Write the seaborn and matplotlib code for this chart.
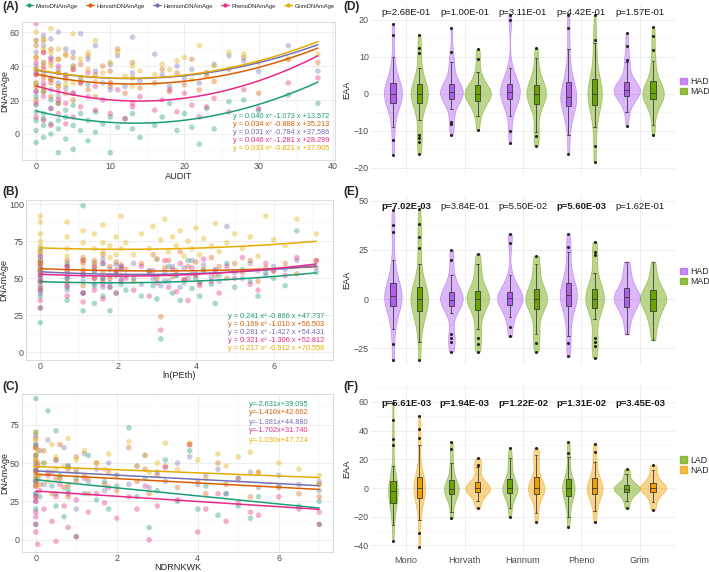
import numpy as np
import pandas as pd
import matplotlib
matplotlib.use("Agg")
import matplotlib.pyplot as plt
import seaborn as sns
from matplotlib.patches import Patch
from matplotlib.lines import Line2D
from matplotlib.ticker import MultipleLocator

sns.set_theme(style="white")
plt.rcParams['font.family'] = ['Liberation Sans', 'DejaVu Sans']

# ---- data ---------------------------------------------------------------
clock_names = ["MonoDNAmAge", "HorvathDNAmAge", "HannumDNAmAge", "PhenoDNAmAge", "GrimDNAmAge"]
clock_colors = ["#1B9E77", "#D95F02", "#7570B3", "#E7298A", "#E6AB02"]
clocks = ["Mono", "Horvath", "Hannum", "Pheno", "Grim"]

# (A) AUDIT
A_audit = [0, 0, 0, 0, 0, 0, 1, 1, 1, 1, 1, 2, 2, 2, 2, 3, 3, 3, 3, 4, 4, 4, 5, 5, 5, 6, 6, 7, 7, 8, 8, 9,
           10, 10, 11, 12, 13, 13, 14, 16, 17, 18, 19, 20, 21, 22, 23, 24, 26, 28, 30, 34, 38]
A_mono = [2, 13, -5, 22, 8, 17, 5, -2, 12, 25, 9, 0, 15, 6, 20, -11, 8, 18, 3, 10, -3, 14, 5, -9, 17, 2, 12,
          8, -4, 13, 1, 6, -11, 10, 4, 9, 3, 12, -2, 5, 10, 18, 2, 12, 4, -6, 15, 3, 19, 20, 14, 23, 18]
A_horvath = [28, 45, 35, 20, 52, 38, 40, 25, 48, 33, 55, 30, 42, 22, 50, 36, 18, 44, 28, 32, 47, 24, 38, 20,
             45, 30, 41, 26, 46, 35, 22, 40, 28, 37, 50, 24, 33, 42, 27, 30, 38, 25, 36, 29, 44, 26, 34, 31,
             38, 45, 24, 44, 42]
A_hannum = [30, 48, 40, 25, 55, 36, 42, 28, 52, 35, 58, 33, 45, 26, 56, 38, 22, 60, 30, 35, 50, 27, 40, 24,
            48, 32, 59, 29, 44, 37, 52, 30, 26, 41, 46, 28, 36, 57, 31, 47, 35, 28, 40, 33, 38, 30, 36, 41,
            46, 43, 37, 52, 37]
A_pheno = [18, 35, 10, 42, 25, 65, 22, 8, 38, 30, 48, 15, 32, 5, 44, 25, 12, 40, 20, 18, 34, 6, 24, 10, 38,
           16, 30, 22, 36, 14, 28, 20, 12, 30, 26, 9, 18, 16, 22, 14, 20, 26, 13, 24, 17, 10, 16, 21, 13, 26,
           15, 30, 33]
A_grim = [30, 45, 38, 55, 28, 60, 35, 50, 42, 27, 56, 32, 48, 40, 62, 36, 28, 50, 44, 34, 46, 29, 40, 30, 59,
          33, 44, 38, 48, 31, 55, 36, 30, 42, 48, 34, 40, 28, 37, 35, 41, 38, 43, 45, 32, 52, 36, 40, 48, 47,
          42, 44, 47]
A_coef = [(0.040, -1.073, 13.572), (0.034, -0.888, 35.213), (0.031, -0.784, 37.586),
          (0.046, -1.281, 28.299), (0.033, -0.821, 37.905)]

# (B) ln(PEth)
B_lnpeth = [0, 0, 0, 0, 0, 0, 0, 0, 0.69, 0.69, 0.69, 0.69, 1.10, 1.10, 1.10, 1.10, 1.39, 1.39, 1.39,
            1.61, 1.61, 1.61, 1.79, 1.79, 1.95, 1.95, 2.08, 2.08, 2.2, 2.4, 2.6, 2.8, 2.9, 3.0, 3.1, 3.2,
            3.3, 3.4, 3.5, 3.6, 3.7, 3.8, 3.9, 4.0, 4.1, 4.2, 4.4, 4.5, 4.6, 4.8, 5.0, 5.2, 5.4, 5.6, 5.8,
            6.0, 6.3, 6.6, 7.1]
B_mono = [30, 42, 48, 55, 62, 38, 20, 70, 35, 50, 60, 44, 40, 52, 99, 28, 45, 33, 55, 50, 38, 60, 44, 28, 52,
          40, 46, 56, 42, 50, 38, 55, 45, 36, 9, 48, 58, 40, 52, 35, 47, 62, 43, 50, 38, 55, 46, 33, 52, 60,
          44, 56, 48, 38, 54, 50, 45, 82, 54]
B_horvath = [48, 56, 62, 52, 68, 44, 58, 60, 55, 62, 47, 58, 53, 60, 45, 64, 57, 50, 62, 54, 66, 48, 58, 50,
             55, 61, 52, 59, 56, 48, 60, 53, 66, 50, 24, 57, 62, 51, 55, 68, 49, 58, 53, 61, 47, 56, 64, 52,
             58, 50, 60, 54, 62, 48, 57, 55, 60, 53, 62]
B_hannum = [45, 54, 60, 50, 65, 40, 57, 52, 50, 58, 42, 55, 48, 62, 52, 40, 55, 46, 60, 50, 63, 44, 56, 47,
            53, 59, 49, 58, 52, 60, 46, 55, 50, 63, 45, 54, 48, 58, 52, 44, 57, 50, 62, 53, 47, 59, 51, 56,
            48, 85, 54, 50, 60, 55, 52, 58, 56, 62, 57]
B_pheno = [35, 48, 55, 60, 42, 65, 52, 30, 45, 58, 38, 52, 40, 55, 62, 34, 50, 42, 58, 46, 60, 36, 52, 44, 55,
           40, 48, 57, 50, 42, 58, 38, 55, 47, 15, 62, 44, 56, 41, 60, 49, 35, 57, 52, 45, 63, 48, 55, 40, 58,
           50, 64, 46, 42, 60, 55, 52, 64, 62]
B_grim = [60, 72, 80, 68, 88, 55, 92, 75, 65, 78, 88, 70, 62, 74, 82, 56, 70, 80, 60, 68, 86, 74, 72, 64, 78,
          66, 70, 92, 74, 66, 80, 70, 85, 63, 76, 90, 68, 78, 72, 82, 65, 75, 70, 84, 66, 77, 72, 87, 68, 74,
          80, 70, 78, 65, 92, 76, 72, 90, 80]
B_coef = [(0.241, -0.866, 47.737), (0.169, -1.010, 56.503), (0.281, -1.427, 54.431),
          (0.321, -1.306, 52.812), (0.217, -0.912, 70.558)]

# (C) NDRNKWK
C_ndrnkwk = [0, 0, 0, 0, 0, 0, 0, 0, 0, 0.05, 0.1, 0.2, 0.3, 0.4, 0.5, 0.5, 0.6, 0.7, 0.8, 0.8, 1.0, 1.0,
             1.2, 1.3, 1.5, 1.7, 1.8, 2.0, 2.3, 2.5, 2.7, 2.8, 3.0, 3.2, 3.5, 3.8, 4.0, 4.2, 4.5, 4.7, 5.0,
             5.3, 5.5, 6.0, 6.5, 7.0, 7.0]
C_mono = [92, 20, 55, 38, 70, 10, 45, 30, 62, 40, 28, 50, 84, 35, 71, 22, 42, 15, 48, 32, 2, 40, 30, 55, 26,
          38, 20, 35, 73, 28, 40, 8, 32, 52, 25, 58, 20, 35, 16, 30, 22, 14, 28, 35, 22, 10, 25]
C_horvath = [48, 35, 60, 42, 28, 66, 52, 38, 45, 50, 36, 58, 44, 30, 52, 40, 62, 34, 46, 28, 54, 38, 42, 30,
             50, 36, 44, 32, 60, 38, 46, 30, 42, 48, 34, 62, 38, 30, 50, 36, 40, 28, 44, 34, 30, 28, 36]
C_hannum = [50, 38, 62, 45, 30, 68, 55, 40, 25, 48, 58, 36, 65, 44, 30, 52, 40, 60, 35, 48, 20, 45, 56, 38,
            46, 32, 50, 42, 36, 48, 55, 34, 44, 38, 50, 54, 36, 42, 46, 30, 40, 44, 34, 42, 36, 32, 38]
C_pheno = [10, 25, 35, 5, 45, 18, 60, 28, 15, -3, 32, 20, 42, 12, -1, 28, 36, 22, 8, 30, 2, 26, 40, 18, 30,
           24, 34, 14, 28, 20, 35, 0, 22, 47, 26, 62, 5, 20, 30, 12, 24, 18, 16, 28, 20, 10, 18]
C_grim = [55, 40, 65, 48, 35, 70, 52, 44, 60, 58, 42, 50, 38, 62, 46, 54, 40, 48, 66, 36, 52, 44, 58, 40, 50,
          46, 56, 42, 64, 48, 55, 44, 50, 63, 46, 63, 52, 40, 56, 48, 54, 57, 44, 50, 46, 42, 36]
C_coef = [(-2.631, 39.095), (-1.410, 42.662), (-1.381, 44.880), (-1.702, 31.740), (-1.030, 47.724)]

# (D) EAA, HAD vs MAD
D_HAD = {
    "Mono": [-16.5, -12.4, -9, -6, -4, -3, -2.5, -2, -1.5, -1, -0.5, 0, 0, 0.5, 1, 1.5, 2, 2.5, 3, 3.5, 5, 7, 10, 16, 19],
    "Horvath": [-11, -8, -7.5, -4, -2.5, -1.6, -1.2, -0.8, -0.3, 0, 0.3, 0.5, 0.5, 0.8, 1.2, 1.6, 2, 2.5, 3.5, 5, 7.8, 8.7, 11.4, 17.7],
    "Hannum": [-13.2, -9.9, -6, -4, -2.5, -1.4, -1, -0.5, 0, 0.3, 0.5, 0.5, 0.8, 1.2, 1.8, 2.4, 2.9, 3.5, 5, 7, 20, 21.4],
    "Pheno": [-16.2, -11, -8, -6, -4.5, -3.9, -3, -2.5, -2, -1.5, -1, -1, -0.5, 0, 0.5, 1.5, 2.3, 3, 4, 6, 9, 12, 17.7, 21.4],
    "Grim": [-8.6, -5, -3.5, -2, -1.2, -0.9, -0.5, 0, 0.3, 0.6, 0.9, 1.1, 1.1, 1.3, 1.6, 2, 2.4, 2.9, 3.2, 4.5, 6.5, 8.7, 9.2, 12.8, 16.4],
}
D_MAD = {
    "Mono": [-16.2, -12.9, -12, -11, -7, -5, -2.5, -2.2, -2, -1.5, -1, -0.5, 0, 0, 0.5, 1, 1.5, 2, 2.7, 3.5, 5, 7, 11, 12.3, 16],
    "Horvath": [-9.7, -6, -4.5, -3.5, -2.2, -1.8, -1.2, -0.8, -0.3, 0, 0, 0.3, 0.8, 1.2, 1.8, 2.3, 3, 4.5, 6, 9.4, 12],
    "Hannum": [-14, -11.5, -10.2, -6, -4, -2.2, -1.8, -1.2, -0.6, 0, 0, 0.5, 1, 1.6, 2.2, 3, 4.5, 6, 9.6, 12.3],
    "Pheno": [-18.3, -14, -9, -6, -3.6, -3, -2, -1.2, -0.5, 0, 0, 0.6, 1.2, 2, 3.2, 4, 6, 9, 13.7, 14.6, 21.4],
    "Grim": [-11, -8.4, -5, -3, -2, -1.8, -1.5, -1, -0.6, -0.2, 0, 0, 0.3, 0.7, 1.2, 1.8, 2.3, 2.5, 3.5, 5, 7.8, 9, 11.9, 15.5, 18],
}
D_p = ["p=2.68E-01", "p=1.00E-01", "p=3.11E-01", "p=4.42E-01", "p=1.57E-01"]
D_bold = [False, False, False, False, False]

# (E) EAA, HAD vs MAD
E_HAD = {
    "Mono": [-31, -22.8, -15, -10, -6, -4.5, -3.6, -2, -1, 0, 0.5, 1, 1.5, 2, 3, 4, 5, 6.5, 8, 11, 15, 20, 34, 37.6, 45],
    "Horvath": [-26.7, -22, -20, -18, -7, -3.6, -3, -2, -1.2, -0.5, -0.5, 0, 0.8, 1.6, 2.5, 3.7, 5.5, 8, 12, 20, 25],
    "Hannum": [-19, -14, -9, -6, -3.9, -2.5, -1.5, -0.5, 0, 0.3, 0.3, 1, 2, 3, 3.4, 5, 8, 12, 28.6, 33],
    "Pheno": [-29, -22.5, -19, -12, -7, -3.6, -2, -1, 0, 1, 1.9, 2.5, 3.5, 5, 6.6, 8, 11, 15, 24, 26.5, 33],
    "Grim": [-18, -12, -8, -5.5, -4.5, -3, -1, 0.3, 0.8, 0.8, 1.5, 2.5, 4, 6, 8, 11, 15, 19],
}
E_MAD = {
    "Mono": [-31, -22, -15, -10, -8, -6.5, -5.9, -3.5, -1.5, -0.5, 0, 0, 0, 1, 2.5, 4, 5, 5.9, 5.9, 12, 18, 26, 31.6, 38, 45.5],
    "Horvath": [-26.7, -23, -20, -15, -12, -6, -3.9, -2.5, -1.5, -0.5, 0, 0, 0.5, 1.5, 2.2, 2.9, 4.5, 7, 11.3, 15, 18, 22.8],
    "Hannum": [-26.7, -22.5, -18, -15, -8, -4.2, -3, -2, -1, 0, 0, 0.5, 1.5, 3, 4.6, 6, 10, 15.6, 18, 21.8],
    "Pheno": [-30, -24, -22, -20, -10, -4.7, -3.5, -2.5, -1.5, -0.5, 0, 0.5, 1.5, 3, 4, 5.2, 8, 13, 22.3, 24, 29],
    "Grim": [-21, -15, -11, -8, -6.5, -4.5, -2, -1, 0, 0, 0.5, 1.5, 2.5, 5, 6.5, 9, 13, 19],
}
E_p = ["p=7.02E-03", "p=3.84E-01", "p=5.50E-02", "p=5.60E-03", "p=1.62E-01"]
E_bold = [True, False, False, True, False]

# (F) EAA, LAD vs NAD
F_LAD = {
    "Mono": [-36.7, -26, -20, -15, -12, -10.7, -10.5, -7, -5, -3.5, -2.1, -2.1, -2.1, -1, 0, 1.5, 3, 4, 5.1, 9, 15, 30, 34, 47.4, 59.5],
    "Horvath": [-21.2, -16.5, -9, -6, -4.9, -3.5, -2, -1, -0.9, -0.5, 0.5, 1.5, 2.8, 4, 7, 14.4, 17.2, 27, 32.3],
    "Hannum": [-20.5, -14, -9, -5.6, -4, -2.5, -1.5, -0.9, -0.5, 0.5, 1.5, 3, 4.4, 7, 12, 17.2, 21.2, 27.7],
    "Pheno": [-27, -20, -14, -9, -6.5, -5, -3, -1.5, -0.5, 0, 0.5, 1.5, 3, 5.1, 7, 12, 21.9, 24.2, 32.3],
    "Grim": [-14.2, -9, -6, -3.7, -2.5, -1.5, -0.9, -0.5, 0, 0.8, 1.6, 3, 5, 9.5, 13],
}
F_NAD = {
    "Mono": [-41, -31.6, -22, -15, -10, -8, -7.2, -5, -3, -1.5, -0.5, 0, 0, 0.5, 2, 3.5, 5, 6.5, 7.9, 11, 18, 30, 35, 41, 50],
    "Horvath": [-14.2, -9, -6, -3.7, -2.5, -1.5, -0.5, 0, 0, 0.5, 1.5, 2.8, 4.5, 8, 14.9, 16, 20.7],
    "Hannum": [-23.5, -17.7, -10, -6, -4.9, -3, -1.5, -0.5, 0, 0, 1, 2.5, 3.7, 6, 10, 19.5, 21, 23, 27.7],
    "Pheno": [-23.5, -16, -11, -7, -4.9, -3, -1.5, -0.5, 0, 0, 1, 2.5, 5.1, 8, 12, 18, 25.3, 31],
    "Grim": [-15.3, -10, -6, -3.7, -2, -1, 0, 0, 0.8, 1.6, 2.6, 5, 8, 12.6, 16],
}
F_p = ["p=5.61E-03", "p=1.94E-03", "p=1.22E-02", "p=1.31E-02", "p=3.45E-03"]
F_bold = [True, True, True, True, True]

HAD_col, MAD_col, NAD_col = "#B15EF0", "#6AA500", "#F0A000"

# ---- figure -------------------------------------------------------------
W, H = 709, 572
fig = plt.figure(figsize=(W / 100, H / 100), dpi=100)


def px_axes(left, top, right, bottom):
    return fig.add_axes([left / W, 1 - bottom / H, (right - left) / W, (bottom - top) / H])


def scatter_panel(ax, x, ys, fit_x, fit_y, xlabel, xlim, ylim, xmaj, ymaj, eqs, eq_pos):
    rows = []
    for name, yv in zip(clock_names, ys):
        rows += [(xi, yi, name) for xi, yi in zip(x, yv)]
    df = pd.DataFrame(rows, columns=["x", "y", "clock"])
    sns.scatterplot(data=df, x="x", y="y", hue="clock", palette=clock_colors, hue_order=clock_names,
                    alpha=0.38, s=16, linewidth=0, legend=False, ax=ax)
    fit = pd.DataFrame([(xx, yy, name) for name, fy in zip(clock_names, fit_y) for xx, yy in zip(fit_x, fy)],
                       columns=["x", "y", "clock"])
    sns.lineplot(data=fit, x="x", y="y", hue="clock", palette=clock_colors, hue_order=clock_names,
                 linewidth=1.1, legend=False, ax=ax)
    ax.set_xlim(*xlim)
    ax.set_ylim(*ylim)
    ax.xaxis.set_major_locator(MultipleLocator(xmaj))
    ax.xaxis.set_minor_locator(MultipleLocator(xmaj / 2))
    ax.yaxis.set_major_locator(MultipleLocator(ymaj))
    ax.yaxis.set_minor_locator(MultipleLocator(ymaj / 2))
    ax.grid(which="major", color="#EBEBEB", linewidth=0.6)
    ax.grid(which="minor", color="#F5F5F5", linewidth=0.4)
    ax.set_axisbelow(True)
    for sp in ax.spines.values():
        sp.set_color("#D6D6D6")
        sp.set_linewidth(0.6)
    ax.tick_params(which="both", length=0, labelsize=6.4, labelcolor="#4D4D4D", pad=1.5)
    ax.set_xlabel(xlabel, fontsize=6.6, labelpad=0.3)
    ax.set_ylabel("DNAmAge", fontsize=6.4, labelpad=0.5)
    ex, eys = eq_pos
    for txt, col, ey in zip(eqs, clock_colors, eys):
        ax.text(ex, ey, txt, color=col, fontsize=5.3, transform=ax.transAxes, va="center", ha="left")


# (A)
axA = px_axes(22, 22, 335, 160)
xa = np.linspace(0, 38, 120)
fitA = [np.polyval(c, xa) for c in A_coef]
eqA = ["y = %.3f x\u00b2 %.3f x +%.3f" % c for c in A_coef]
scatter_panel(axA, A_audit, [A_mono, A_horvath, A_hannum, A_pheno, A_grim], xa, fitA, "AUDIT",
              (-1.9, 40.3), (-15.3, 65.9), 10, 20, eqA,
              (0.675, [(160 - y) / 138 for y in (116, 124, 132, 140, 148)]))

# (B)
axB = px_axes(26, 200, 333, 360)
xb = np.linspace(0, 7.1, 120)
fitB = [np.polyval(c, xb) for c in B_coef]
eqB = ["y = %.3f x\u00b2 %.3f x +%.3f" % c for c in B_coef]
scatter_panel(axB, B_lnpeth, [B_mono, B_horvath, B_hannum, B_pheno, B_grim], xb, fitB, "ln(PEth)",
              (-0.37, 7.53), (-5.2, 102.9), 2, 25, eqB,
              (0.659, [(360 - y) / 160 for y in (316, 324, 332, 341, 349)]))

# (C)
axC = px_axes(22, 394, 333, 552)
xc = np.linspace(0, 7.0, 60)
fitC = [np.polyval(c, xc) for c in C_coef]
eqC = ["y=%.3fx+%.3f" % c for c in C_coef]
scatter_panel(axC, C_ndrnkwk, [C_mono, C_horvath, C_hannum, C_pheno, C_grim], xc, fitC, "NDRNKWK",
              (-0.34, 7.34), (-8.0, 95.0), 2, 25, eqC,
              (0.731, [(552 - y) / 158 for y in (404, 413, 422, 431, 441)]))


def violin_panel(ax, ga, gb, names, cols, pvals, bold, ylim, major, minor, ptxt_y, show_x):
    rows = []
    for name, grp in zip(names, (ga, gb)):
        for c in clocks:
            rows += [(c, name, v) for v in grp[c]]
    df = pd.DataFrame(rows, columns=["clock", "group", "EAA"])
    sns.violinplot(data=df, x="clock", y="EAA", hue="group", order=clocks, hue_order=names,
                   palette=cols, density_norm="area", cut=0, inner=None, width=0.9, bw_adjust=0.75,
                   linewidth=0.5, saturation=1, legend=False, ax=ax)
    for coll in ax.collections:
        fc = coll.get_facecolor()
        if len(fc):
            c = fc[0].copy()
            c[3] = 0.45
            coll.set_facecolor(c)
            c2 = c.copy()
            c2[3] = 0.6
            coll.set_edgecolor(c2)
    sns.boxplot(data=df, x="clock", y="EAA", hue="group", order=clocks, hue_order=names,
                palette=cols, width=0.9, gap=0.8, linewidth=0.6, linecolor="#3A3A3A", saturation=1,
                fliersize=1.2, legend=False, ax=ax,
                flierprops=dict(marker="o", markerfacecolor="#222222", markeredgecolor="#222222"))
    ax.set_xlim(-0.6, 4.6)
    ax.set_ylim(*ylim)
    ax.yaxis.set_major_locator(MultipleLocator(major))
    ax.yaxis.set_minor_locator(MultipleLocator(minor))
    ax.grid(which="major", color="#EBEBEB", linewidth=0.6)
    ax.grid(which="minor", axis="y", color="#F4F4F4", linewidth=0.4)
    ax.set_axisbelow(True)
    for sp in ax.spines.values():
        sp.set_visible(False)
    ax.tick_params(which="both", length=0, labelsize=6.4, labelcolor="#4D4D4D", pad=1.5)
    ax.set_xlabel("")
    ax.set_ylabel("EAA", fontsize=6.6, labelpad=1.5)
    if not show_x:
        ax.set_xticklabels([])
    for i, (p, b) in enumerate(zip(pvals, bold)):
        ax.text(i, ptxt_y, p, ha="center", va="center", fontsize=6.8, color="#1A1A1A",
                fontweight="bold" if b else "normal")
    handles = [Patch(facecolor=cols[0], edgecolor=cols[0], alpha=0.7),
               Patch(facecolor=cols[1], edgecolor=cols[1], alpha=0.7)]
    ax.legend(handles, names, loc="center left", bbox_to_anchor=(1.0, 0.52), frameon=False,
              fontsize=6.3, handlelength=0.8, handleheight=0.8, handletextpad=0.3,
              labelspacing=0.1, borderaxespad=0.2)


axD = px_axes(371, 5, 675, 175)
violin_panel(axD, D_HAD, D_MAD, ["HAD", "MAD"], [HAD_col, MAD_col], D_p, D_bold,
             (-21.9, 24.0), 10, 5, 22, False)
axE = px_axes(371, 195, 675, 365)
violin_panel(axE, E_HAD, E_MAD, ["HAD", "MAD"], [HAD_col, MAD_col], E_p, E_bold,
             (-33.5, 52.8), 25, 12.5, 47, False)
axF = px_axes(371, 385, 675, 552)
violin_panel(axF, F_LAD, F_NAD, ["LAD", "NAD"], [MAD_col, NAD_col], F_p, F_bold,
             (-44.6, 71.8), 20, 10, 59, True)
axF.tick_params(axis="x", labelsize=6.6, pad=3)

# scatter legend on top
hl = [Line2D([0], [0], color=c, lw=0.9, marker="o", markersize=2.0) for c in clock_colors]
fig.legend(hl, clock_names, loc="center", bbox_to_anchor=(180 / W, 1 - 6 / H), ncol=5, frameon=False,
           fontsize=4.2, handlelength=1.3, handletextpad=0.4, columnspacing=1.5)

for lab, x, y in [("(A)", 2, 7), ("(B)", 2, 192), ("(C)", 2, 387),
                  ("(D)", 343, 7), ("(E)", 343, 192), ("(F)", 343, 387)]:
    fig.text(x / W, 1 - y / H, lab, fontsize=8.5, fontweight="bold", va="center", ha="left")

fig.savefig("out.png", dpi=100)
